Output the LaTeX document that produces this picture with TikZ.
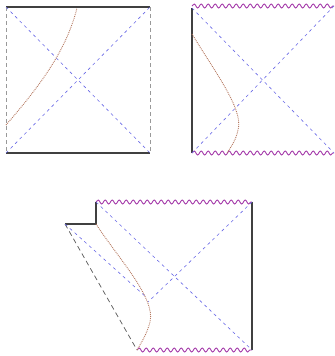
\documentclass[tikz,border=0pt]{standalone}
\usepackage{tikz}
\usetikzlibrary{decorations.pathmorphing}

\definecolor{singcol}{RGB}{165,60,170}
\definecolor{horcol}{RGB}{105,105,230}
\definecolor{obscol}{RGB}{180,120,95}

\tikzset{
  sing/.style={singcol, line width=0.9bp, decorate, decoration={snake, amplitude=2bp, segment length=7bp}},
  hor/.style={horcol, line width=0.6bp, dash pattern=on 3bp off 3.5bp},
  bdry/.style={black!75, line width=1.1bp},
  obs/.style={obscol, densely dotted, line width=0.9bp},
}

\begin{document}
\begin{tikzpicture}[x=1bp, y=-1bp]
  \useasboundingbox (0,0) rectangle (335,356);

  % Minkowski-like square
  \draw[bdry] (6,7) -- (150,7);
  \draw[bdry] (6,153) -- (150,153);
  \draw[gray!80, line width=0.7bp, dash pattern=on 4bp off 3bp] (6,7) -- (6,153);
  \draw[gray!80, line width=0.7bp, dash pattern=on 4bp off 3bp] (150,7) -- (150,153);
  \draw[hor] (6,7) -- (150,153);
  \draw[hor] (6,153) -- (150,7);
  \draw[obs] (6,125) .. controls (38,88) and (66,52) .. (77,8);

  % one-sided Schwarzschild square
  \draw[bdry] (192,8) -- (192,153);
  \draw[sing] (192,6) -- (334,6);
  \draw[sing] (192,153) -- (334,153);
  \draw[hor] (192,8) -- (334,153);
  \draw[hor] (192,153) -- (334,6);
  \draw[obs] (192,34) .. controls (215,72) and (244,110) .. (238,130)
             .. controls (236,140) and (231,147) .. (227,153);

  % collapsing star
  \draw[sing] (96,202) -- (252,202);
  \draw[sing] (137,350) -- (252,350);
  \draw[bdry] (252,202) -- (252,350);
  \draw[bdry] (96,202) -- (96,224) -- (65,224);
  \draw[black!65, line width=0.7bp, dash pattern=on 5bp off 3.5bp] (65,224) -- (137,350);
  \draw[hor] (96,202) -- (252,350);
  \draw[hor] (252,202) -- (148,302);
  \draw[hor] (65,224) -- (146,297);
  \draw[obs] (96,224) .. controls (118,258) and (156,298) .. (150,322)
             .. controls (147,334) and (141,343) .. (137,350);
\end{tikzpicture}
\end{document}
